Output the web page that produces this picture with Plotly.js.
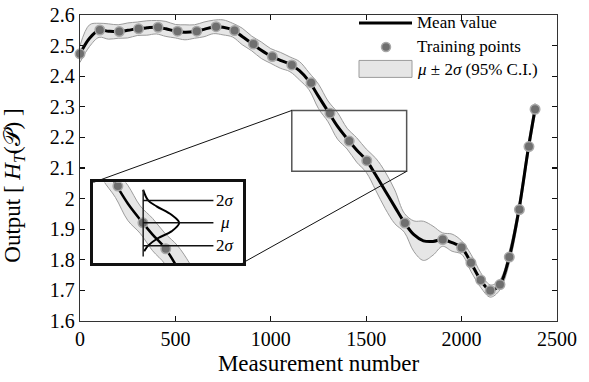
<!DOCTYPE html>
<html>
<head>
<meta charset="utf-8">
<script src="https://cdn.plot.ly/plotly-3.0.1.min.js"></script>
<style>html,body{margin:0;padding:0;background:#fff;}#chart{width:589px;height:382px;}</style>
</head>
<body>
<div id="chart"></div>
<script>
// ---- data ----
const xGrid = [0,50,100,150,200,250,300,350,400,450,500,550,600,650,700,750,800,850,900,950,1000,1050,1100,1150,1200,1250,1300,1350,1400,1450,1500,1550,1600,1650,1700,1750,1800,1850,1900,1950,2000,2050,2100,2150,2200,2250,2300,2350,2385];
const meanVals = [2.473,2.524,2.550,2.547,2.546,2.550,2.555,2.558,2.560,2.555,2.547,2.544,2.546,2.553,2.561,2.560,2.551,2.530,2.507,2.485,2.466,2.452,2.439,2.418,2.384,2.334,2.285,2.236,2.196,2.159,2.126,2.077,2.025,1.973,1.922,1.882,1.862,1.860,1.866,1.856,1.840,1.789,1.734,1.700,1.719,1.809,1.962,2.165,2.292];
const upperVals = [2.500,2.568,2.573,2.571,2.568,2.574,2.577,2.581,2.582,2.579,2.569,2.568,2.568,2.577,2.583,2.584,2.573,2.557,2.531,2.512,2.490,2.478,2.463,2.448,2.412,2.374,2.319,2.281,2.230,2.199,2.162,2.132,2.087,2.028,1.952,1.927,1.926,1.910,1.888,1.884,1.862,1.817,1.758,1.718,1.734,1.829,1.982,2.185,2.312];
const lowerVals = [2.445,2.497,2.527,2.521,2.524,2.525,2.533,2.534,2.538,2.530,2.525,2.519,2.524,2.529,2.539,2.535,2.528,2.503,2.483,2.458,2.442,2.426,2.415,2.388,2.356,2.294,2.251,2.194,2.162,2.119,2.086,2.027,1.967,1.918,1.890,1.827,1.798,1.815,1.844,1.828,1.818,1.761,1.710,1.678,1.701,1.789,1.942,2.145,2.272];
const trainX = [0,104,206,307,409,511,612,713,810,909,1008,1110,1211,1310,1411,1503,1703,1901,2000,2049,2100,2150,2201,2250,2303,2353,2385];
const trainY = [2.473,2.551,2.546,2.555,2.560,2.547,2.547,2.562,2.549,2.505,2.464,2.437,2.379,2.279,2.188,2.124,1.920,1.866,1.840,1.790,1.734,1.700,1.719,1.809,1.964,2.170,2.292];
// Gaussian sketch in the inset
const gaussY = [2.2695,2.2436,2.229,2.208,2.188,2.167,2.150,2.1317,2.118];
const gaussX = [1412,1432,1466,1526,1557,1526,1471,1432,1416];
const sigmaLevels = [2.2436,2.188,2.1317];
const sigmaLabels = ['2<i>σ</i>','<i>μ</i>','2<i>σ</i>'];
const xTickVals = [0,500,1000,1500,2000,2500];
const xTickLabels = ['0','500','1000','1500','2000','2500'];
const yTickVals = [1.6,1.7,1.8,1.9,2.0,2.1,2.2,2.3,2.4,2.5,2.6];
const yTickLabels = ['1.6','1.7','1.8','1.9','2','2.1','2.2','2.3','2.4','2.5','2.6'];
const legendLabels = ['Mean value','Training points','<i>μ</i> ± 2<i>σ</i> (95% C.I.)'];
const xTitle = 'Measurement number';
const yTitle = 'Output [ <i>H</i><sub><i>T</i></sub>(𝒫) ]';

// ---- styling ----
const FONT = 'Liberation Serif, Times New Roman, serif';
const bandFill = '#e6e6e6', bandLine = '#9c9c9c';
const ptFill = '#6f6f6f', ptLine = '#a8a8a8';

function bandTraces(xa, ya, lw) {
  return [
    {x: xGrid, y: lowerVals, xaxis: xa, yaxis: ya, mode: 'lines', line: {color: bandLine, width: 1, shape: 'spline'}, hoverinfo: 'skip', showlegend: false},
    {x: xGrid, y: upperVals, xaxis: xa, yaxis: ya, mode: 'lines', fill: 'tonexty', fillcolor: bandFill, line: {color: bandLine, width: 1, shape: 'spline'}, hoverinfo: 'skip', showlegend: false},
    {x: xGrid, y: meanVals, xaxis: xa, yaxis: ya, mode: 'lines', line: {color: '#000', width: lw, shape: 'spline'}, showlegend: false},
    {x: trainX, y: trainY, xaxis: xa, yaxis: ya, mode: 'markers', cliponaxis: xa !== 'x', marker: {size: 9.5, color: ptFill, line: {color: ptLine, width: 1.5}}, showlegend: false}
  ];
}

const data = bandTraces('x', 'y', 3)
  .concat(bandTraces('x2', 'y2', 2.5))
  .concat([{x: gaussX, y: gaussY, xaxis: 'x2', yaxis: 'y2', mode: 'lines', line: {color: '#000', width: 2, shape: 'spline'}, showlegend: false, hoverinfo: 'skip'}]);

// plot-area geometry (px) used to place paper-referenced legend items
const L = 80, R = 557, T = 15, B = 321.5;
const px = v => (v - L) / (R - L);
const py = v => (B - v) / (B - T);

const shapes = [
  {type: 'rect', xref: 'x', yref: 'y', x0: 1110, x1: 1712, y0: 2.089, y1: 2.288, line: {color: '#555', width: 1.5}, layer: 'above'},
  {type: 'line', xref: 'x', yref: 'y', x0: 70, y0: 2.053, x1: 1110, y1: 2.288, line: {color: '#111', width: 1}, layer: 'above'},
  {type: 'line', xref: 'x', yref: 'y', x0: 853, y0: 1.790, x1: 1712, y1: 2.089, line: {color: '#111', width: 1}, layer: 'above'},
  {type: 'line', xref: 'x2', yref: 'y2', x0: 1412, x1: 1412, y0: 2.105, y1: 2.270, line: {color: '#222', width: 1.5}, layer: 'above'},
  {type: 'line', xref: 'paper', yref: 'paper', x0: px(359), x1: px(412), y0: py(23), y1: py(23), line: {color: '#000', width: 3}},
  {type: 'circle', xref: 'paper', yref: 'paper', x0: px(381.5), x1: px(390.5), y0: py(51.5), y1: py(42.5), fillcolor: ptFill, line: {color: ptLine, width: 1.5}},
  {type: 'rect', xref: 'paper', yref: 'paper', x0: px(359), x1: px(412), y0: py(77.5), y1: py(60.5), fillcolor: bandFill, line: {color: bandLine, width: 1}}
];
sigmaLevels.forEach(v => shapes.push({type: 'line', xref: 'x2', yref: 'y2', x0: 1412, x1: 1695, y0: v, y1: v, line: {color: '#111', width: 1.5}, layer: 'above'}));

const annotations = [];
sigmaLevels.forEach((v, i) => annotations.push({xref: 'x2', yref: 'y2', x: i === 1 ? 1712 : 1698, y: v, text: sigmaLabels[i], showarrow: false, xanchor: 'left', yanchor: 'middle', font: {family: FONT, size: 17, color: '#000'}}));
[23, 47, 70].forEach((yy, i) => annotations.push({xref: 'paper', yref: 'paper', x: px(415), y: py(yy), text: legendLabels[i], showarrow: false, xanchor: 'left', yanchor: 'middle', font: {family: FONT, size: 17, color: '#000'}}));
// y-axis title, placed as in the reference
annotations.push({xref: 'paper', yref: 'paper', x: px(14), y: py(186), text: yTitle, textangle: -90, showarrow: false, xanchor: 'center', yanchor: 'middle', font: {family: FONT, size: 23, color: '#000'}});

const axisCommon = {showgrid: false, zeroline: false, showline: true, linecolor: '#333', linewidth: 1.2, mirror: 'ticks', ticks: 'inside', ticklen: 5, tickcolor: '#111', tickwidth: 1.2, tickfont: {family: FONT, size: 20, color: '#000'}};

const layout = {
  width: 589, height: 382,
  margin: {l: 80, r: 32, t: 15, b: 60.5},
  paper_bgcolor: '#fff', plot_bgcolor: '#fff',
  showlegend: false,
  font: {family: FONT, color: '#000'},
  xaxis: Object.assign({}, axisCommon, {range: [0, 2500], tickvals: xTickVals, ticktext: xTickLabels,
    title: {text: xTitle, font: {family: FONT, size: 23}, standoff: 5}}),
  yaxis: Object.assign({}, axisCommon, {range: [1.6, 2.6], tickvals: yTickVals, ticktext: yTickLabels}),
  xaxis2: {domain: [px(93.3), px(242.7)], anchor: 'y2', range: [1211, 1813], showgrid: false, zeroline: false, showticklabels: false, ticks: '', showline: true, mirror: true, linecolor: '#111', linewidth: 3},
  yaxis2: {domain: [py(263.3), py(182.7)], anchor: 'x2', range: [2.089, 2.288], showgrid: false, zeroline: false, showticklabels: false, ticks: '', showline: true, mirror: true, linecolor: '#111', linewidth: 3},
  shapes: shapes,
  annotations: annotations
};

Plotly.newPlot('chart', data, layout, {staticPlot: true, displayModeBar: false});
</script>
</body>
</html>
